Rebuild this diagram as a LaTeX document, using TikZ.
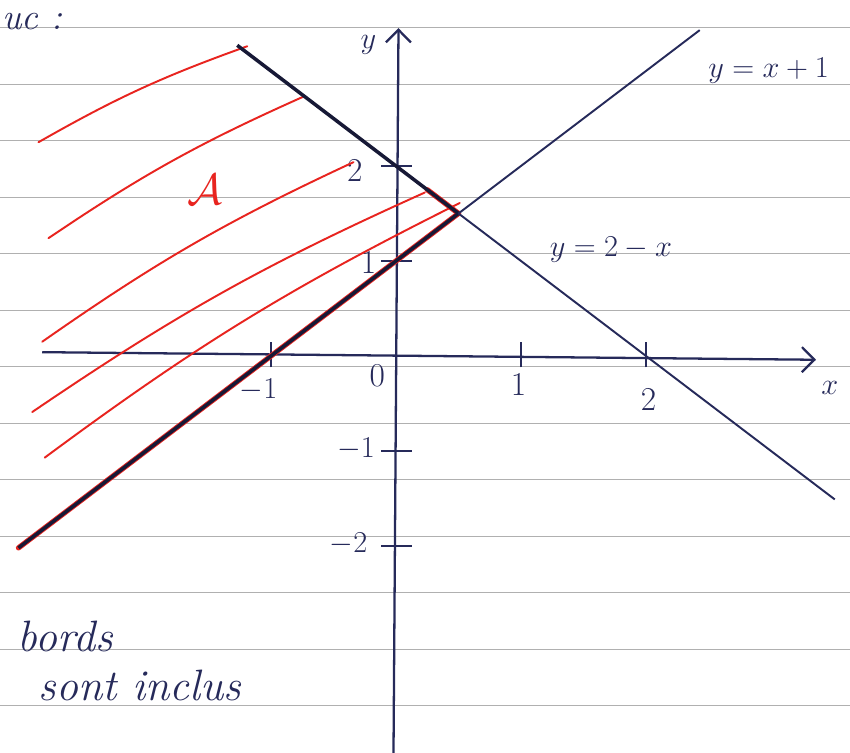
\documentclass[tikz,border=0pt]{standalone}
\usepackage{amsmath}
\usetikzlibrary{arrows.meta}
\definecolor{ink}{HTML}{262A5A}
\definecolor{pen}{HTML}{E8241F}
\definecolor{rule}{HTML}{B0B0B0}
\tikzset{
  every node/.style={font=\fontsize{19}{23}\selectfont,text=ink,inner sep=0pt},
  note/.style={font=\itshape\fontsize{25}{30}\selectfont,anchor=west},
  ruled/.style={draw=rule,line width=.6pt},
  axis/.style={draw=ink,line width=1.3pt},
  graph/.style={draw=ink,line width=1.1pt},
  border/.style={draw=ink!60!black,line width=2pt},
  hatch/.style={draw=pen,line width=1.1pt,line cap=round},
  tick/.style={draw=ink,line width=1.1pt},
}

\begin{document}
\begin{tikzpicture}[x=2.5cm,y=1.9cm]
\path[use as bounding box] (-3.168,-4.179) rectangle (3.632,3.747);
\fill[white] (-3.168,-4.179) rectangle (3.632,3.747);
% ruled paper
\foreach \k in {0,...,12}
  \draw[ruled] (-3.168,{3.4526-0.5947*\k}) -- (3.632,{3.4526-0.5947*\k});
% axes
\coordinate (xs) at (-2.83,0.04);
\coordinate (xe) at (3.36,-0.04);
\coordinate (ys) at (-0.02,-4.18);
\coordinate (ye) at (0.02,3.45);
\draw[axis,-{Straight Barb[length=2.5mm,width=5mm]}] (xs) -- (xe);
\draw[axis,-{Straight Barb[length=2.5mm,width=5mm]}] (ys) -- (ye);
\foreach \t in {-1,1,2}
  \draw[tick] (\t,-0.12) -- (\t,0.15);
\foreach \t in {-2,-1,1,2}
  \draw[tick] (-0.12,\t) -- (0.13,\t);
\node (o) at (-0.15,-0.21) {0};
\node (x1) at (0.98,-0.3) {1};
\node (x2) at (2.02,-0.46) {2};
\node (xm1) at (-1.1,-0.36) {$-1$};
\node (y2) at (-0.33,1.95) {2};
\node (y1) at (-0.22,0.98) {1};
\node (ym1) at (-0.32,-0.98) {$-1$};
\node (ym2) at (-0.38,-1.98) {$-2$};
\node (ylab) at (-0.22,3.27) {$y$};
\node (xlab) at (3.47,-0.34) {$x$};
% the two lines, meeting at (1/2,3/2)
\coordinate (I) at (0.5,1.5);
\coordinate (ua) at (-3.02,-2.02);
\coordinate (ub) at (2.43,3.43);
\coordinate (da) at (-1.27,3.27);
\coordinate (db) at (3.51,-1.51);
\foreach \xa/\ya/\xb/\yb in {-2.86/2.25/-1.19/3.26,-2.78/1.24/-0.74/2.73,-2.83/0.15/-0.34/2.04,-2.91/-0.59/0.23/1.72,-2.81/-1.07/0.51/1.61}
  \draw[hatch] (\xa,\ya) to[bend left=5] (\xb,\yb);
\draw[hatch,line width=3pt] (ua) -- (I);
\draw[hatch,line width=3pt] (0.25,1.75) -- (I);
\draw[border] (ua) -- (I);
\draw[border] (da) -- (I);
\draw[graph] (I) -- (ub);
\draw[graph] (I) -- (db);
\node (lu) at (2.98,3.0) {$y = x + 1$};
\node (ld) at (1.72,1.12) {$y = 2 - x$};
\node[text=pen,font=\fontsize{30}{34}\selectfont] (A) at (-1.53,1.75) {$\mathcal{A}$};
% handwritten notes
\node[note,anchor=base west,font=\itshape\fontsize{21}{25}\selectfont] (uc) at (-3.15,3.44) {uc :};
\node[note] (bords) at (-3.03,-2.95) {bords};
\node[note] (inclus) at (-2.86,-3.47) {sont inclus};
\end{tikzpicture}
\end{document}
